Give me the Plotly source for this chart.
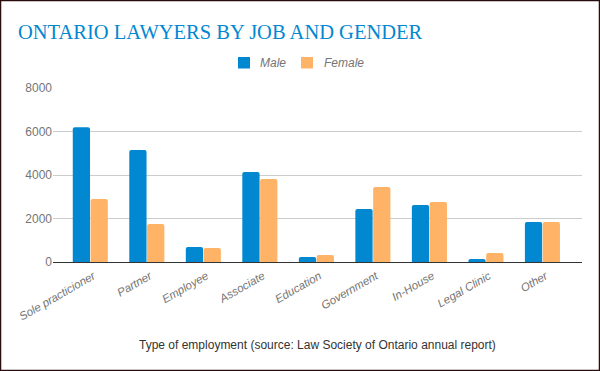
import plotly.graph_objects as go

categories = ["Sole practicioner", "Partner", "Employee", "Associate", "Education",
              "Government", "In-House", "Legal Clinic", "Other"]
male = [6190, 5150, 690, 4140, 230, 2440, 2620, 140, 1840]
female = [2900, 1750, 640, 3820, 320, 3450, 2760, 410, 1840]
y_ticks = [0, 2000, 4000, 6000, 8000]
series_names = ["Male", "Female"]
series_colors = ["#0288D1", "#FFB366"]

W, H = 600, 371
L, R, T, B = 53, 18, 88, 109
pw, ph = W - L - R, H - T - B
SANS = "'Liberation Sans', Arial, sans-serif"

def px(x):
    return (x - L) / pw

def py(y):
    return (H - B - y) / ph

fig = go.Figure()
for name, vals, col in zip(series_names, [male, female], series_colors):
    fig.add_trace(go.Bar(name=name, x=categories, y=vals, marker_color=col,
                         marker_line_width=0, showlegend=False))

# manual legend (symbol squares + italic labels)
legend_sq_x = [238, 301]
legend_tx_x = [258, 322]
shapes = []
annotations = []
for name, col, sx, tx in zip(series_names, series_colors, legend_sq_x, legend_tx_x):
    shapes.append(dict(type="rect", xref="paper", yref="paper",
                       x0=px(sx), x1=px(sx + 12), y0=py(68.5), y1=py(57),
                       fillcolor=col, line=dict(width=0)))
    annotations.append(dict(text=name, xref="paper", yref="paper", x=px(tx), y=py(62.5),
                            xanchor="left", yanchor="middle", showarrow=False,
                            font=dict(family=SANS, size=12, color="#757575", style="italic")))

annotations.append(dict(text="Type of employment (source: Law Society of Ontario annual report)",
                        xref="paper", yref="paper", x=px(317), y=py(345), xanchor="center",
                        yanchor="middle", showarrow=False,
                        font=dict(family=SANS, size=12, color="#333333")))
shapes.append(dict(type="rect", xref="paper", yref="paper",
                   x0=px(0.5), x1=px(599.5), y0=py(370.5), y1=py(0.5),
                   line=dict(color="#2B0C0C", width=1.5), layer="above"))

fig.update_layout(
    width=W, height=H,
    margin=dict(l=L, r=R, t=T, b=B, autoexpand=False),
    paper_bgcolor="white", plot_bgcolor="white",
    barmode="group", bargap=0.37, bargroupgap=0.03,
    barcornerradius=2,
    showlegend=False,
    title=dict(text="ONTARIO LAWYERS BY JOB AND GENDER",
               font=dict(family="Georgia, 'Liberation Serif', serif", size=20.5, color="#0288D1"),
               x=18 / W, xanchor="left", y=1 - 32 / H, yanchor="middle"),
    xaxis=dict(range=[-0.66, 8.70], tickangle=-30, showgrid=False, showline=True,
               linecolor="#333333", linewidth=1, ticks="", automargin=False,
               ticklabelshift=3, ticklabelstandoff=2,
               tickfont=dict(family=SANS, size=11.5, color="#757575", style="italic")),
    yaxis=dict(range=[0, 8000], tickvals=y_ticks, showgrid=True, gridcolor="#CCCCCC",
               zeroline=False, ticks="", ticklen=0, automargin=False,
               tickfont=dict(family=SANS, size=12, color="#757575")),
    annotations=annotations,
    shapes=shapes,
)

fig.write_html("out.html", config={"displayModeBar": False},
               post_script="document.body.style.margin='0';")
